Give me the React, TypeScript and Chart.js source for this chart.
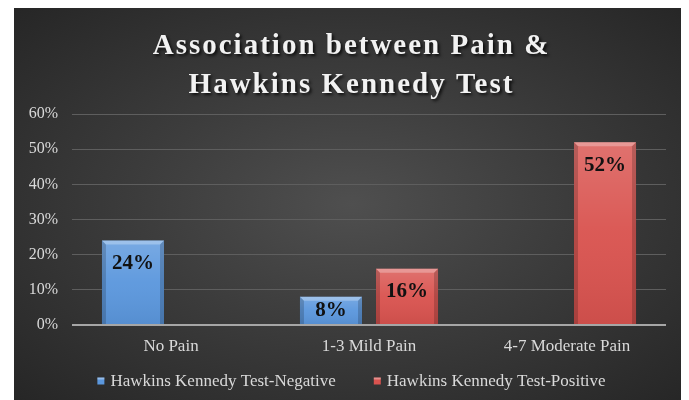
import React, { useEffect, useRef } from "react";
import Chart from "chart.js/auto";

const categories = ["No Pain", "1-3 Mild Pain", "4-7 Moderate Pain"];
const negativeValues: (number | null)[] = [24, 8, null];
const positiveValues: (number | null)[] = [null, 16, 52];
const seriesNames = ["Hawkins Kennedy Test-Negative", "Hawkins Kennedy Test-Positive"];
const seriesColors = ["#5b97dd", "#d9534f"];
const titleLines = ["Association between Pain &", "Hawkins Kennedy Test"];
const yMin = 0;
const yMax = 60;
const yStep = 10;

const W = 675;
const H = 392;
const SERIF = "'Liberation Serif', 'Times New Roman', serif";
const TEXT = "#d9d9d9";

const titlePlugin = {
  id: "customTitle",
  afterDraw(chart: any) {
    const ctx = chart.ctx;
    ctx.save();
    ctx.font = `bold 29px ${SERIF}`;
    (ctx as any).letterSpacing = "2px";
    ctx.textAlign = "center";
    ctx.textBaseline = "alphabetic";
    ctx.fillStyle = "#f2f2f2";
    ctx.shadowColor = "rgba(0,0,0,0.75)";
    ctx.shadowOffsetX = 2;
    ctx.shadowOffsetY = 2;
    ctx.shadowBlur = 3;
    const cx = chart.width / 2;
    ctx.fillText(titleLines[0], cx, 46);
    ctx.fillText(titleLines[1], cx, 85);
    ctx.restore();
  },
};

const bevelPlugin = {
  id: "bevel",
  afterDatasetsDraw(chart: any) {
    const ctx = chart.ctx;
    chart.data.datasets.forEach((ds: any, di: number) => {
      const meta = chart.getDatasetMeta(di);
      meta.data.forEach((bar: any, i: number) => {
        if (ds.data[i] == null) return;
        const { x, y, base, width } = bar.getProps(["x", "y", "base", "width"], true);
        const l = x - width / 2;
        const r = x + width / 2;
        const h = base - y;
        ctx.save();
        // vertical shading
        const g = ctx.createLinearGradient(0, y, 0, base);
        g.addColorStop(0, "rgba(255,255,255,0.18)");
        g.addColorStop(0.5, "rgba(255,255,255,0.04)");
        g.addColorStop(1, "rgba(0,0,0,0.06)");
        ctx.fillStyle = g;
        ctx.fillRect(l, y, width, h);
        // top bevel
        ctx.fillStyle = "rgba(255,255,255,0.28)";
        ctx.beginPath();
        ctx.moveTo(l, y);
        ctx.lineTo(r, y);
        ctx.lineTo(r - 4, y + 4);
        ctx.lineTo(l + 4, y + 4);
        ctx.closePath();
        ctx.fill();
        // side edges
        ctx.fillStyle = "rgba(0,0,0,0.18)";
        ctx.beginPath();
        ctx.moveTo(l, y);
        ctx.lineTo(l + 4, y + 4);
        ctx.lineTo(l + 4, base);
        ctx.lineTo(l, base);
        ctx.closePath();
        ctx.fill();
        ctx.beginPath();
        ctx.moveTo(r, y);
        ctx.lineTo(r - 4, y + 4);
        ctx.lineTo(r - 4, base);
        ctx.lineTo(r, base);
        ctx.closePath();
        ctx.fill();
        ctx.restore();
      });
    });
  },
};

const labelPlugin = {
  id: "valueLabels",
  afterDatasetsDraw(chart: any) {
    const ctx = chart.ctx;
    ctx.save();
    ctx.font = `bold 21px ${SERIF}`;
    ctx.fillStyle = "#111111";
    ctx.textAlign = "center";
    ctx.textBaseline = "middle";
    chart.data.datasets.forEach((ds: any, di: number) => {
      const meta = chart.getDatasetMeta(di);
      meta.data.forEach((bar: any, i: number) => {
        const v = ds.data[i];
        if (v == null || v === 0) return;
        const { x, y, base } = bar.getProps(["x", "y", "base"], true);
        const ty = Math.min(y + 23, (y + base) / 2);
        ctx.fillText(`${v}%`, x, ty);
      });
    });
    ctx.restore();
  },
};

const legendPlugin = {
  id: "customLegend",
  afterDraw(chart: any) {
    const ctx = chart.ctx;
    ctx.save();
    ctx.font = `17px ${SERIF}`;
    ctx.textBaseline = "middle";
    const box = 7;
    const gap = 6;
    const itemGap = 38;
    const widths = seriesNames.map((n) => box + gap + ctx.measureText(n).width);
    const total = widths.reduce((a, b) => a + b, 0) + itemGap * (widths.length - 1);
    let x = chart.width / 2 - total / 2;
    const cy = 373;
    seriesNames.forEach((n, i) => {
      ctx.fillStyle = seriesColors[i];
      ctx.fillRect(x, cy - box / 2, box, box);
      ctx.fillStyle = "rgba(255,255,255,0.35)";
      ctx.fillRect(x, cy - box / 2, box, 2);
      ctx.fillStyle = TEXT;
      ctx.fillText(n, x + box + gap, cy + 1);
      x += widths[i] + itemGap;
    });
    ctx.restore();
  },
};

export default function App() {
  const ref = useRef<HTMLCanvasElement>(null);
  useEffect(() => {
    if (!ref.current) return;
    const chart = new Chart(ref.current, {
      type: "bar",
      data: {
        labels: categories,
        datasets: [
          {
            label: seriesNames[0],
            data: negativeValues,
            backgroundColor: seriesColors[0],
            borderColor: "#3f74b5",
            borderWidth: 0,
            categoryPercentage: 0.768,
            barPercentage: 0.816,
          },
          {
            label: seriesNames[1],
            data: positiveValues,
            backgroundColor: seriesColors[1],
            borderColor: "#a83a37",
            borderWidth: 0,
            categoryPercentage: 0.768,
            barPercentage: 0.816,
          },
        ],
      },
      options: {
        responsive: false,
        animation: false,
        layout: { padding: { top: 106, right: 23, bottom: 35, left: 0 } },
        plugins: {
          legend: { display: false },
          title: { display: false },
          tooltip: { enabled: false },
        },
        scales: {
          x: {
            grid: { display: false, drawTicks: false },
            border: { display: false },
            ticks: { color: TEXT, font: { family: SERIF, size: 17 }, padding: 11 },
            afterFit(scale: any) {
              scale.height = 40;
            },
          },
          y: {
            min: yMin,
            max: yMax,
            grid: {
              drawTicks: false,
              color: (c: any) => (c.tick && c.tick.value === 0 ? "#a6a6a6" : "#5e5e5e"),
              lineWidth: (c: any) => (c.tick && c.tick.value === 0 ? 2 : 1),
            },
            border: { display: false },
            ticks: {
              stepSize: yStep,
              color: TEXT,
              font: { family: SERIF, size: 16 },
              padding: 14,
              callback: (v: any) => `${v}%`,
            },
            afterFit(scale: any) {
              scale.width = 58;
            },
          },
        },
      },
      plugins: [bevelPlugin, labelPlugin, titlePlugin, legendPlugin],
    });
    return () => chart.destroy();
  }, []);

  return (
    <div
      style={{
        marginLeft: 6,
        width: W,
        height: H,
        background:
          "radial-gradient(ellipse at 50% 50%, #4f4f4f 0%, #3c3c3c 45%, #262626 100%)",
      }}
    >
      <canvas ref={ref} width={W} height={H} style={{ display: "block" }} />
    </div>
  );
}
